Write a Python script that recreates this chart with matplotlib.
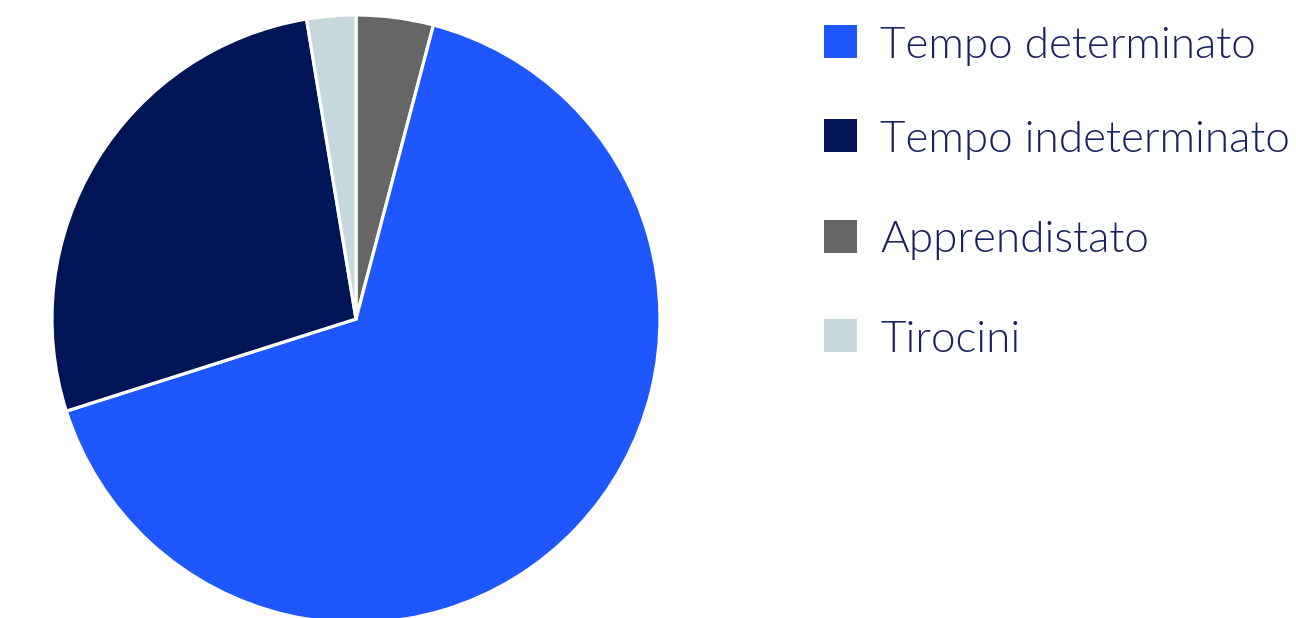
import matplotlib.pyplot as plt
from matplotlib.patches import Rectangle

# dati (ordine della legenda)
categorie = ["Tempo determinato", "Tempo indeterminato", "Apprendistato", "Tirocini"]
valori = [66.0, 27.3, 4.1, 2.6]
colori = ["#1f57ff", "#001555", "#666666", "#c6d8dc"]

# ordine delle fette in senso orario partendo dall'alto
ordine_fette = [2, 0, 1, 3]

fig = plt.figure(figsize=(12.96, 6.18), dpi=100)
W, H = 1296, 618

# torta
cx, cy, r = 356, 319, 304
ax = fig.add_axes([(cx - r) / W, (H - cy - r) / H, 2 * r / W, 2 * r / H])
ax.pie([valori[i] for i in ordine_fette],
       colors=[colori[i] for i in ordine_fette],
       startangle=90, counterclock=False, radius=1,
       wedgeprops=dict(edgecolor="white", linewidth=2.3))
ax.set_xlim(-1, 1)
ax.set_ylim(-1, 1)
ax.axis("off")

# legenda disegnata a mano
y_centri = [41, 135, 236, 335]
lato = 33
for nome, col, yc in zip(categorie, colori, y_centri):
    fig.patches.append(Rectangle((824 / W, (H - yc - lato / 2) / H), lato / W, lato / H,
                                 transform=fig.transFigure, facecolor=col, edgecolor="none"))
    fig.text(880 / W, (H - yc - lato / 2) / H, nome, fontsize=31.7, family="Lato",
             fontweight=300, color="#18225e", va="baseline", ha="left")

fig.savefig("out.png", dpi=100)
